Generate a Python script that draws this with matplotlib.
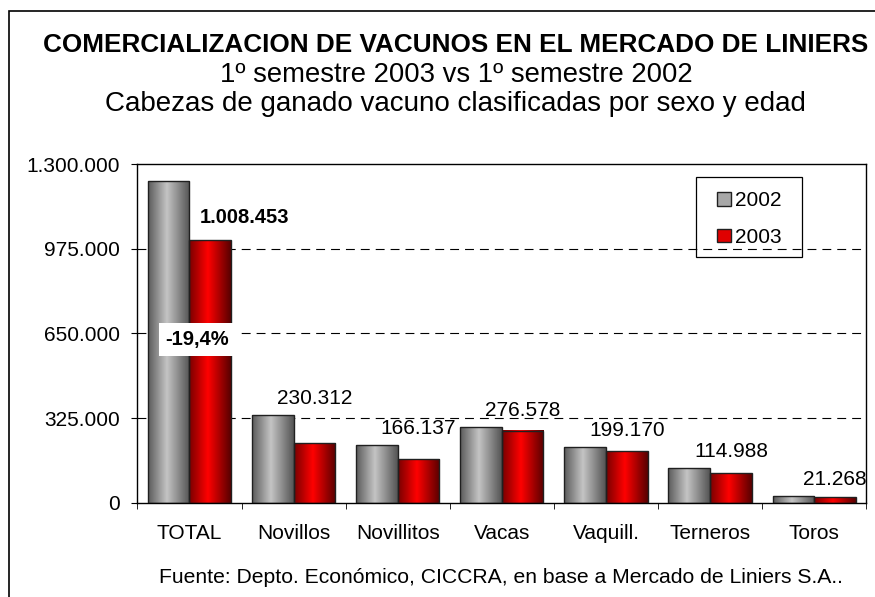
import numpy as np
import matplotlib
matplotlib.use('Agg')
import matplotlib.pyplot as plt
from matplotlib.colors import LinearSegmentedColormap
from matplotlib.patches import Rectangle

plt.rcParams['font.family'] = ['Liberation Sans', 'DejaVu Sans']

# %% data
categories = ['TOTAL', 'Novillos', 'Novillitos', 'Vacas', 'Vaquill.', 'Terneros', 'Toros']
y2002 = [1235000, 336000, 220000, 289000, 212000, 132000, 26000]
y2003 = [1008453, 230312, 166137, 276578, 199170, 114988, 21268]
labels_2003 = ['1.008.453', '230.312', '166.137', '276.578', '199.170', '114.988', '21.268']
yticks = [0, 325000, 650000, 975000, 1300000]
ytick_labels = ['0', '325.000', '650.000', '975.000', '1.300.000']
change_total = '-19,4%'

gray_cmap = LinearSegmentedColormap.from_list(
    'gray_cyl', [(0, '#5c5c5c'), (0.45, '#c4c4c4'), (1, '#555555')])
red_cmap = LinearSegmentedColormap.from_list(
    'red_cyl', [(0, '#7a0000'), (0.45, '#ff0000'), (1, '#5a0000')])
grad = np.linspace(0, 1, 64).reshape(1, -1)

# %% figure
fig = plt.figure(figsize=(8.75, 5.97), dpi=100)
ax = fig.add_axes([0.157, 0.158, 0.833, 0.567])

x = np.arange(len(categories))
w = 0.4
for vals, offset, cmap in [(y2002, -w / 2, gray_cmap), (y2003, w / 2, red_cmap)]:
    bars = ax.bar(x + offset, vals, width=w, facecolor='none',
                  edgecolor='#202020', linewidth=1.0, zorder=3)
    for b in bars:
        x0, h = b.get_x(), b.get_height()
        ax.imshow(grad, extent=[x0, x0 + w, 0, h], aspect='auto',
                  cmap=cmap, zorder=2, interpolation='bilinear')

ax.set_xlim(-0.5, len(categories) - 0.5)
ax.set_ylim(0, 1300000)

# value labels above each pair
for i, lab in enumerate(labels_2003):
    if i == 0:
        ax.annotate(lab, (i + w / 2, y2003[i]), xytext=(25, 16),
                    textcoords='offset points', ha='center', va='center',
                    fontsize=14.5, fontweight='bold')
    else:
        ax.annotate(lab, (i + w / 2, max(y2002[i], y2003[i])), xytext=(0, 12),
                    textcoords='offset points', ha='center', va='center',
                    fontsize=15)

ax.text(0.078, 628000, change_total, ha='center', va='center', fontsize=14.5,
        fontweight='bold', zorder=5,
        bbox=dict(facecolor='white', edgecolor='none', pad=5))

# axes styling
ax.set_yticks(yticks)
ax.set_yticklabels(ytick_labels, fontsize=15)
for yv in yticks[1:-1]:
    ax.axhline(yv, color='black', linestyle=(0, (8, 5.4)), linewidth=0.8, zorder=1)
ax.set_xticks(x)
ax.set_xticklabels(categories, fontsize=15)
ax.set_xticks(np.arange(-0.5, len(categories)), minor=True)
ax.tick_params(axis='x', which='major', length=0, pad=15)
ax.tick_params(axis='x', which='minor', length=4.5, direction='out')
ax.tick_params(axis='y', length=4.5, direction='out', pad=8)
for s in ax.spines.values():
    s.set_linewidth(1.0)

# legend (frame drawn separately)
handles = [Rectangle((0, 0), 1, 1, facecolor='#a8a8a8', edgecolor='#202020'),
           Rectangle((0, 0), 1, 1, facecolor='#e00000', edgecolor='#202020')]
fig.legend(handles, ['2002', '2003'], loc='center left',
           bbox_to_anchor=(717 / 875, 1 - 219 / 597), fontsize=15, frameon=False,
           handlelength=0.65, handleheight=0.65, handletextpad=0.2,
           labelspacing=0.85, borderpad=0, borderaxespad=0)
fig.patches.append(Rectangle((696 / 875, 1 - 257 / 597), 106 / 875, 80 / 597,
                             transform=fig.transFigure, fill=False,
                             edgecolor='black', linewidth=0.9))

# titles
fig.text(0.521, 1 - 51.7 / 597, 'COMERCIALIZACION DE VACUNOS EN EL MERCADO DE LINIERS',
         ha='center', va='baseline', fontsize=18.8, fontweight='bold')
fig.text(0.521, 1 - 81.7 / 597, '1º semestre 2003 vs 1º semestre 2002',
         ha='center', va='baseline', fontsize=19.8)
fig.text(0.521, 1 - 110.7 / 597, 'Cabezas de ganado vacuno clasificadas por sexo y edad',
         ha='center', va='baseline', fontsize=20)
fig.text(0.573, 1 - 583 / 597, 'Fuente: Depto. Económico, CICCRA, en base a Mercado de Liniers S.A..',
         ha='center', va='baseline', fontsize=15.2)

# outer frame
fig.patches.append(Rectangle((9 / 875, -0.05), 1.1, 1 - 11 / 597 + 0.05,
                             transform=fig.transFigure, fill=False,
                             edgecolor='black', linewidth=1.2))

plt.savefig('out.png', dpi=100)
